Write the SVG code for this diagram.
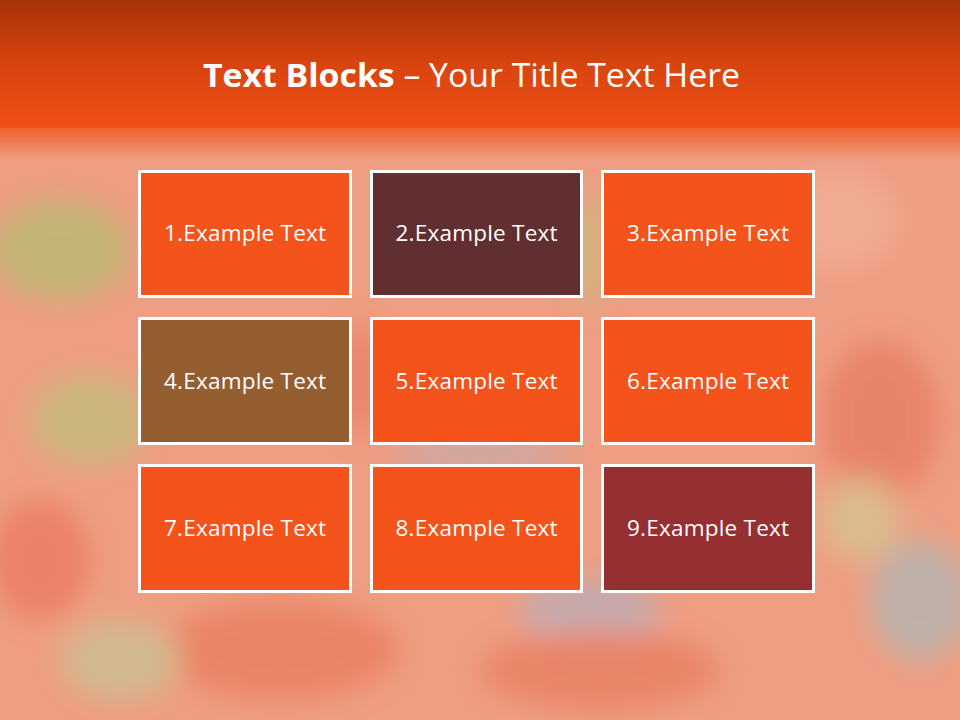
<svg xmlns="http://www.w3.org/2000/svg" width="960" height="720" viewBox="0 0 960 720">
<defs>
<linearGradient id="hdr" x1="0" y1="0" x2="0" y2="1">
<stop offset="0" stop-color="#A83206"/>
<stop offset="0.5" stop-color="#D8440F"/>
<stop offset="1" stop-color="#F25016"/>
</linearGradient>
<linearGradient id="fade" x1="0" y1="0" x2="0" y2="1">
<stop offset="0" stop-color="#F25016" stop-opacity="1"/>
<stop offset="1" stop-color="#F25016" stop-opacity="0"/>
</linearGradient>
<filter id="blur" x="-50%" y="-50%" width="200%" height="200%"><feGaussianBlur stdDeviation="14"/></filter>
<style>
.box{stroke:#FFFFFF;stroke-width:3}
.o{fill:#F4531B}
.lbl{font-family:"Open Sans","Liberation Sans",sans-serif;font-size:22.5px;fill:#FFFFFF;text-anchor:middle}
</style>
</defs>
<g id="background">
<rect x="0" y="0" width="960" height="720" fill="#EE9E82"/>
<g filter="url(#blur)" opacity="0.5">
<ellipse cx="60" cy="250" rx="70" ry="50" fill="#9ACB6A"/>
<ellipse cx="90" cy="420" rx="60" ry="45" fill="#A9CF7A"/>
<ellipse cx="40" cy="560" rx="50" ry="60" fill="#E7654F"/>
<ellipse cx="480" cy="452" rx="90" ry="14" fill="#9AB7D8"/>
<ellipse cx="590" cy="610" rx="70" ry="30" fill="#9AB7D8"/>
<ellipse cx="880" cy="420" rx="60" ry="80" fill="#E26A55"/>
<ellipse cx="920" cy="600" rx="50" ry="60" fill="#8FC3CF"/>
<ellipse cx="280" cy="650" rx="120" ry="50" fill="#E76A4E"/>
<ellipse cx="600" cy="670" rx="120" ry="40" fill="#E46C50"/>
<ellipse cx="860" cy="520" rx="40" ry="40" fill="#C7D89A"/>
<ellipse cx="840" cy="220" rx="60" ry="50" fill="#F3B8A0"/>
<ellipse cx="120" cy="660" rx="60" ry="40" fill="#B6D39A"/>
<ellipse cx="360" cy="380" rx="14" ry="60" fill="#E05A45"/>
<ellipse cx="590" cy="250" rx="14" ry="60" fill="#A9CF7A"/>
</g>
<rect x="0" y="120" width="960" height="40" fill="url(#fade)"/>
<rect x="0" y="0" width="960" height="128" fill="url(#hdr)"/>
</g>
<g id="title">
<text x="203" y="87" textLength="537" lengthAdjust="spacingAndGlyphs" font-family="Open Sans, Liberation Sans, sans-serif" font-size="33" fill="#FFFFFF"><tspan font-weight="bold">Text Blocks</tspan> – Your Title Text Here</text>
</g>
<g id="node1"><rect class="box o" x="139.5" y="171.5" width="211" height="125"/><text class="lbl" x="245" y="241" textLength="162">1.Example Text</text></g>
<g id="node2"><rect class="box" fill="#622F31" x="371.5" y="171.5" width="210" height="125"/><text class="lbl" x="476.5" y="241" textLength="162">2.Example Text</text></g>
<g id="node3"><rect class="box o" x="602.5" y="171.5" width="211" height="125"/><text class="lbl" x="708" y="241" textLength="162">3.Example Text</text></g>
<g id="node4"><rect class="box" fill="#955E31" x="139.5" y="318.5" width="211" height="125"/><text class="lbl" x="245" y="389" textLength="162">4.Example Text</text></g>
<g id="node5"><rect class="box o" x="371.5" y="318.5" width="210" height="125"/><text class="lbl" x="476.5" y="389" textLength="162">5.Example Text</text></g>
<g id="node6"><rect class="box o" x="602.5" y="318.5" width="211" height="125"/><text class="lbl" x="708" y="389" textLength="162">6.Example Text</text></g>
<g id="node7"><rect class="box o" x="139.5" y="465.5" width="211" height="126"/><text class="lbl" x="245" y="536" textLength="162">7.Example Text</text></g>
<g id="node8"><rect class="box o" x="371.5" y="465.5" width="210" height="126"/><text class="lbl" x="476.5" y="536" textLength="162">8.Example Text</text></g>
<g id="node9"><rect class="box" fill="#952F32" x="602.5" y="465.5" width="211" height="126"/><text class="lbl" x="708" y="536" textLength="162">9.Example Text</text></g>
<g id="connectors"/>
</svg>
